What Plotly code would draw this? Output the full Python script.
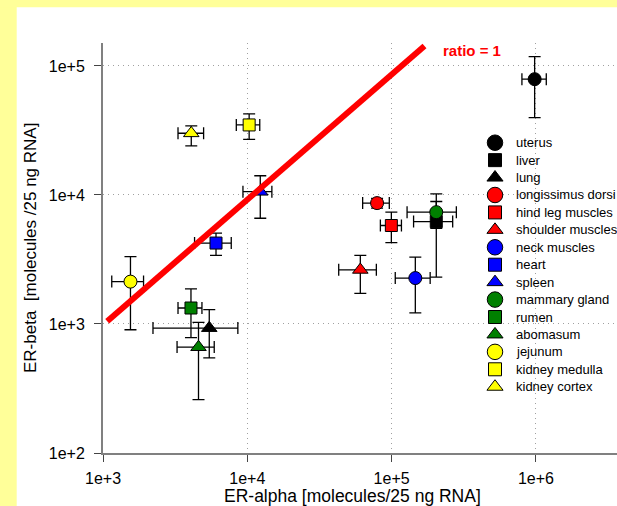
import plotly.graph_objects as go

# ---------------- data ----------------
tissues = ["uterus", "liver", "lung", "longissimus dorsi", "hind leg muscles",
           "shoulder muscles", "neck muscles", "heart", "spleen", "mammary gland",
           "rumen", "abomasum", "jejunum", "kidney medulla", "kidney cortex"]

er_alpha    = [9.8e5, 2.04e5, 5.45e3, 7.93e4, 9.96e4, 6.07e4, 1.46e5, 6.07e3, 1.23e4, 2.04e5, 4.07e3, 4.59e3, 1.55e3, 1.03e4, 4.09e3]
er_alpha_lo = [8.0e5, 1.42e5, 2.22e3, 6.30e4, 8.36e4, 4.30e4, 1.06e5, 4.31e3, 9.33e3, 1.28e5, 3.31e3, 3.26e3, 1.15e3, 8.39e3, 3.31e3]
er_alpha_hi = [1.18e6, 2.65e5, 8.6e3, 9.64e4, 1.17e5, 7.84e4, 1.85e5, 7.74e3, 1.48e4, 2.81e5, 4.85e3, 5.9e3, 1.91e3, 1.22e4, 4.98e3]

er_beta     = [7.9e4, 6.22e3, 930, 8.65e3, 5.8e3, 2.63e3, 2.27e3, 4.24e3, 1.06e4, 7.36e3, 1.33e3, 662, 2.13e3, 3.49e4, 3.01e4]
er_beta_lo  = [3.98e4, 2.31e3, 547, 7.9e3, 4.27e3, 1.73e3, 1.22e3, 3.4e3, 6.6e3, 5.5e3, 785, 259, 902, 2.7e4, 2.4e4]
er_beta_hi  = [1.18e5, 8.9e3, 1.29e3, 9.4e3, 7.36e3, 3.4e3, 3.3e3, 5.06e3, 1.41e4, 1.02e4, 1.87e3, 1.03e3, 3.33e3, 4.25e4, 3.43e4]

fill_colors = ["#000000"] * 3 + ["#FF0000"] * 3 + ["#0000FF"] * 3 + ["#008000"] * 3 + ["#FFFF00"] * 3
symbols = ["circle", "square", "triangle-up"] * 5

ratio_line_x = [1.07e3, 1.69e5]
ratio_line_y = [1.05e3, 1.43e5]

x_tickvals = [1e3, 1e4, 1e5, 1e6]
x_ticktext = ["1e+3", "1e+4", "1e+5", "1e+6"]
y_tickvals = [1e2, 1e3, 1e4, 1e5]
y_ticktext = ["1e+2", "1e+3", "1e+4", "1e+5"]

FONT = "Liberation Sans, Arial, sans-serif"
plot_sizes = {"circle": 13, "square": 12, "triangle-up": 13.5}
legend_sizes = {"circle": 15.5, "square": 13, "triangle-up": 14}

fig = go.Figure()

for i, name in enumerate(tissues):
    fig.add_trace(go.Scatter(
        x=[er_alpha[i]], y=[er_beta[i]], mode="markers", name=name, showlegend=False,
        marker=dict(symbol=symbols[i], size=plot_sizes[symbols[i]], color=fill_colors[i],
                    line=dict(color="black", width=1)),
        error_x=dict(type="data", symmetric=False,
                     array=[er_alpha_hi[i] - er_alpha[i]],
                     arrayminus=[er_alpha[i] - er_alpha_lo[i]],
                     color="black", thickness=1.3, width=6),
        error_y=dict(type="data", symmetric=False,
                     array=[er_beta_hi[i] - er_beta[i]],
                     arrayminus=[er_beta[i] - er_beta_lo[i]],
                     color="black", thickness=1.3, width=6),
    ))

# ratio = 1 line
fig.add_trace(go.Scatter(x=ratio_line_x, y=ratio_line_y, mode="lines", showlegend=False,
                         line=dict(color="#FF0000", width=6), hoverinfo="skip"))

# ---------------- manual legend (overlay axes in 0..1 space) ----------------
L, T_, W, H = 103, 43, 514, 410
def px2x(px):
    return (px - L) / W
def py2y(py):
    return (T_ + H - py) / H

leg_marker_x = px2x(495)
leg_text_x = px2x(514)
leg_y = [py2y(142.7 + 17.43 * i) for i in range(len(tissues))]

for i, name in enumerate(tissues):
    fig.add_trace(go.Scatter(
        x=[leg_marker_x], y=[leg_y[i]], xaxis="x2", yaxis="y2", mode="markers",
        showlegend=False, hoverinfo="skip", cliponaxis=False,
        marker=dict(symbol=symbols[i], size=legend_sizes[symbols[i]], color=fill_colors[i],
                    line=dict(color="black", width=1)),
    ))

annotations = []
for i, name in enumerate(tissues):
    annotations.append(dict(x=leg_text_x, y=leg_y[i], xref="x2", yref="y2", text=name,
                            showarrow=False, xanchor="left", yanchor="middle",
                            font=dict(family=FONT, size=13, color="black")))

annotations += [
    dict(x=px2x(352), y=py2y(495.5), xref="paper", yref="paper",
         text="ER-alpha [molecules/25 ng RNA]", showarrow=False,
         xanchor="center", yanchor="middle", font=dict(family=FONT, size=17.5, color="black")),
    dict(x=px2x(30), y=py2y(248), xref="paper", yref="paper",
         text="ER-beta  [molecules /25 ng RNA]", showarrow=False, textangle=-90,
         xanchor="center", yanchor="middle", font=dict(family=FONT, size=17, color="black")),
    dict(x=px2x(440.7), y=py2y(50.7), xref="paper", yref="paper",
         text="<b>ratio = 1</b>", showarrow=False,
         xanchor="left", yanchor="middle", font=dict(family=FONT, size=15, color="#FF0000")),
]

shapes = [
    dict(type="rect", xref="paper", yref="paper", x0=-0.5, x1=px2x(16.7), y0=-0.5, y1=1.5,
         fillcolor="#FFFF99", line=dict(width=0), layer="below"),
    dict(type="rect", xref="paper", yref="paper", x0=-0.5, x1=px2x(617), y0=py2y(7.3), y1=1.5,
         fillcolor="#FFFF99", line=dict(width=0), layer="below"),
]

axis_common = dict(
    showline=True, linecolor="#808080", linewidth=2,
    ticks="outside", ticklen=7, tickcolor="#444444", tickwidth=1,
    showgrid=True, gridcolor="#A0A0A0", griddash="1px,4px", gridwidth=1,
    tickfont=dict(family=FONT, size=16, color="black"),
    zeroline=False, mirror=False,
)

fig.update_layout(
    width=617, height=506,
    margin=dict(l=L, r=0, t=T_, b=506 - T_ - H, pad=0),
    paper_bgcolor="white", plot_bgcolor="white",
    xaxis=dict(type="log", range=[3, 6.562], tickvals=x_tickvals, ticktext=x_ticktext,
               ticklabelstandoff=3, **axis_common),
    yaxis=dict(type="log", range=[2, 5.178], tickvals=y_tickvals, ticktext=y_ticktext,
               ticklabelstandoff=6, **axis_common),
    xaxis2=dict(overlaying="x", range=[0, 1], visible=False, anchor="y2", fixedrange=True),
    yaxis2=dict(overlaying="y", range=[0, 1], visible=False, anchor="x2", fixedrange=True),
    annotations=annotations, shapes=shapes, showlegend=False,
)

fig.write_html("out.html",
               config={"displayModeBar": False},
               post_script="document.body.style.margin='0px';document.body.style.overflow='hidden';")
